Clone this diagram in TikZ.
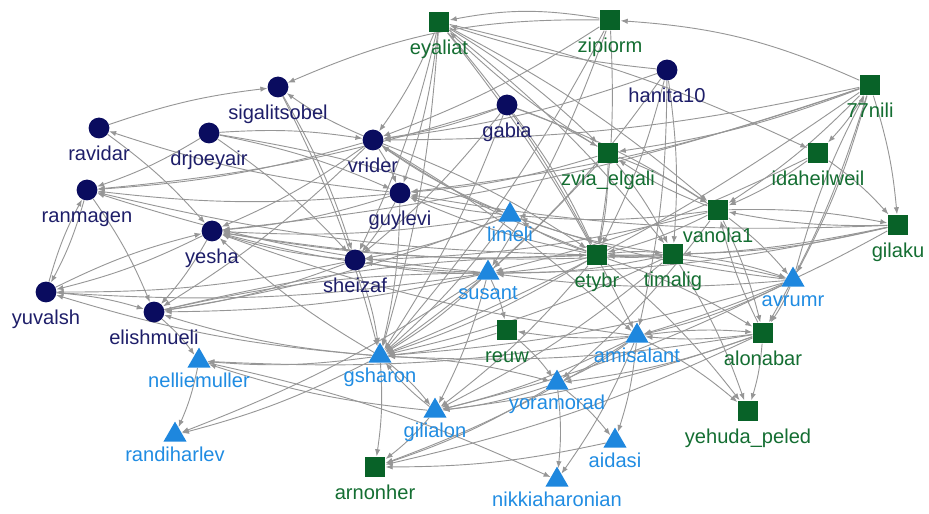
\documentclass[tikz,border=0pt]{standalone}
\usepackage{fontspec}
\setmainfont{Liberation Sans}
\usetikzlibrary{shapes.geometric,arrows.meta}
\definecolor{navyfill}{RGB}{10,12,95}
\definecolor{navytext}{RGB}{30,30,105}
\definecolor{greenfill}{RGB}{8,98,40}
\definecolor{greentext}{RGB}{20,110,50}
\definecolor{bluefill}{RGB}{30,135,222}
\definecolor{bluetext}{RGB}{32,140,226}
\definecolor{edgegray}{RGB}{150,150,150}
\pgfdeclarelayer{background}
\pgfsetlayers{background,main}
\begin{document}
\begin{tikzpicture}[x=0.25mm, y=-0.25mm,
    font=\fontsize{14.3}{16}\selectfont, label distance=4pt,
    every label/.style={inner sep=1pt, text height=10.5pt, text depth=3pt},
    person/.style={circle, fill=navyfill, minimum size=5.2mm, inner sep=0pt, label={[text=navytext]below:#1}},
    group/.style={rectangle, fill=greenfill, minimum size=5.2mm, inner sep=0pt, label={[text=greentext]below:#1}},
    reader/.style={regular polygon, regular polygon sides=3, fill=bluefill, minimum size=6.7mm, inner sep=0pt, label={[text=bluetext, label distance=2pt]below:#1}},
    every edge/.style={draw=edgegray, line width=0.65pt, -{Latex[length=5pt,width=3.8pt]}, bend left=6}]
    \useasboundingbox (0,0) rectangle (929,514);
    \node[person=sigalitsobel] (sigalitsobel) at (278,87) {};
    \node[person=ravidar] (ravidar) at (99,128) {};
    \node[person=drjoeyair] (drjoeyair) at (209,133) {};
    \node[person=ranmagen] (ranmagen) at (87,190) {};
    \node[person=yesha] (yesha) at (212,231) {};
    \node[person=yuvalsh] (yuvalsh) at (46,292) {};
    \node[person=elishmueli] (elishmueli) at (154,312) {};
    \node[person=vrider] (vrider) at (373,140) {};
    \node[person=gabia] (gabia) at (507,105) {};
    \node[person=hanita10] (hanita10) at (667,70) {};
    \node[person=guylevi] (guylevi) at (400,193) {};
    \node[person=sheizaf] (sheizaf) at (355,260) {};
    \node[group=eyaliat] (eyaliat) at (439,22) {};
    \node[group=zipiorm] (zipiorm) at (610,20) {};
    \node[group=77nili] (nili77) at (870,85) {};
    \node[group=zvia\_elgali] (zvia_elgali) at (608,153) {};
    \node[group=idaheilweil] (idaheilweil) at (818,153) {};
    \node[group=vanola1] (vanola1) at (718,210) {};
    \node[group=gilaku] (gilaku) at (898,225) {};
    \node[group=etybr] (etybr) at (597,255) {};
    \node[group=timalig] (timalig) at (673,254) {};
    \node[group=reuw] (reuw) at (507,330) {};
    \node[group=alonabar] (alonabar) at (763,333) {};
    \node[group=yehuda\_peled] (yehuda_peled) at (748,411) {};
    \node[group=arnonher] (arnonher) at (375,467) {};
    \node[reader=limeli] (limeli) at (510,215) {};
    \node[reader=susant] (susant) at (488,273) {};
    \node[reader=avrumr] (avrumr) at (793,280) {};
    \node[reader=amisalant] (amisalant) at (637,336) {};
    \node[reader=gsharon] (gsharon) at (380,356) {};
    \node[reader=nelliemuller] (nelliemuller) at (199,361) {};
    \node[reader=yoramorad] (yoramorad) at (557,383) {};
    \node[reader=gilialon] (gilialon) at (435,411) {};
    \node[reader=randiharlev] (randiharlev) at (175,435) {};
    \node[reader=aidasi] (aidasi) at (615,441) {};
    \node[reader=nikkiaharonian] (nikkiaharonian) at (557,480) {};
    \begin{pgfonlayer}{background}
    \path (ravidar) edge (sigalitsobel) edge (yesha);
    \path (drjoeyair) edge (vrider) edge (guylevi) edge (sheizaf) edge (limeli) edge (ranmagen);
    \path (sigalitsobel) edge (sheizaf) edge (gsharon);
    \path (vrider) edge (sigalitsobel) edge (ranmagen) edge (yesha) edge (elishmueli) edge (guylevi) edge (etybr) edge (amisalant);
    \path (gabia) edge (vrider) edge (sheizaf) edge (gsharon) edge (zvia_elgali) edge (vanola1) edge (etybr) edge (ranmagen);
    \path (eyaliat) edge (vrider) edge (sheizaf) edge (gsharon) edge (guylevi) edge (zvia_elgali) edge (vanola1) edge (timalig) edge (amisalant) edge (etybr) edge (idaheilweil);
    \path (zipiorm) edge[bend right=10] (eyaliat) edge (susant) edge (gsharon) edge[bend right=12] (sigalitsobel) edge (etybr) edge (vrider);
    \path (hanita10) edge (vrider) edge (etybr) edge (timalig) edge (amisalant) edge (susant) edge (eyaliat);
    \path (nili77) edge[bend right=10] (zipiorm) edge (vrider) edge (guylevi) edge (zvia_elgali) edge (idaheilweil) edge (gilaku) edge (vanola1) edge (avrumr) edge (alonabar) edge (gsharon) edge (yesha);
    \path (idaheilweil) edge (gilaku) edge (vanola1) edge (susant);
    \path (gilaku) edge (vanola1) edge (timalig) edge (etybr) edge (susant) edge (amisalant) edge (guylevi);
    \path (vanola1) edge (gilaku) edge (etybr) edge (limeli) edge (zvia_elgali) edge (avrumr) edge (alonabar) edge (yoramorad) edge (sheizaf);
    \path (zvia_elgali) edge (eyaliat) edge (vanola1) edge (timalig) edge (gsharon) edge (guylevi) edge (etybr);
    \path (etybr) edge (limeli) edge (susant) edge (guylevi) edge (vrider) edge (yesha) edge (gsharon) edge (gilialon) edge (avrumr) edge (timalig) edge (alonabar) edge (yehuda_peled) edge (ranmagen);
    \path (timalig) edge (etybr) edge (gsharon) edge (susant) edge (limeli) edge (gilialon) edge (avrumr) edge (yehuda_peled) edge (yesha);
    \path (avrumr) edge (alonabar) edge (susant) edge (limeli) edge (amisalant) edge (gilialon) edge (nili77) edge (gsharon);
    \path (alonabar) edge (yehuda_peled) edge (amisalant) edge (yoramorad) edge (gilialon) edge (arnonher) edge (vanola1) edge (gsharon);
    \path (amisalant) edge (aidasi) edge (yoramorad) edge (gilialon) edge (arnonher) edge (alonabar) edge (yehuda_peled) edge (reuw) edge (nikkiaharonian) edge (yesha) edge (nelliemuller);
    \path (limeli) edge (guylevi) edge (sheizaf) edge (vrider) edge (gsharon) edge (yesha) edge (elishmueli);
    \path (susant) edge (reuw) edge (gsharon) edge (yesha) edge (ranmagen) edge (randiharlev) edge (gilialon) edge (elishmueli) edge (sheizaf) edge (yuvalsh);
    \path (guylevi) edge (sheizaf) edge (gsharon) edge (ranmagen) edge (yesha) edge (ravidar);
    \path (sheizaf) edge (yesha) edge (yuvalsh) edge (gsharon) edge (elishmueli);
    \path (yesha) edge (yuvalsh) edge (elishmueli);
    \path (yuvalsh) edge (ranmagen) edge (elishmueli) edge (yesha);
    \path (ranmagen) edge (yuvalsh) edge (elishmueli);
    \path (elishmueli) edge (nelliemuller) edge (etybr) edge (susant);
    \path (gsharon) edge (nelliemuller) edge (randiharlev) edge (arnonher) edge (gilialon) edge (yoramorad) edge (yesha) edge (yuvalsh) edge (elishmueli);
    \path (nelliemuller) edge (randiharlev) edge (nikkiaharonian);
    \path (reuw) edge (yoramorad) edge (gsharon);
    \path (yoramorad) edge (gilialon) edge (aidasi) edge (arnonher) edge (nikkiaharonian);
    \path (gilialon) edge (nelliemuller) edge (arnonher) edge (gsharon);
    \path (aidasi) edge (arnonher);
    \end{pgfonlayer}
\end{tikzpicture}
\end{document}
